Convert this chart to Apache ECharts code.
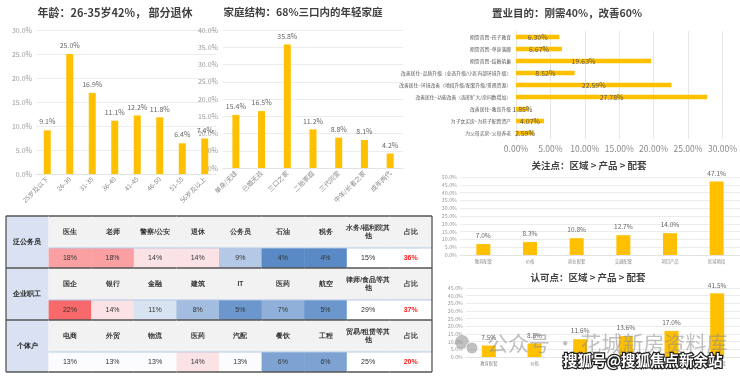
<!DOCTYPE html>
<html><head><meta charset="utf-8">
<script src="https://cdn.jsdelivr.net/npm/echarts@6/dist/echarts.min.js"></script>
<style>html,body{margin:0;padding:0;background:#fff}#c{width:740px;height:376px}</style>
</head><body><div id="c"></div>
<script>
// ---- data ----
const ageCats = ['25岁及以下','26-30','31-35','36-40','41-45','46-50','51-55','56岁及以上'];
const ageVals = [9.1,25.0,16.9,11.1,12.2,11.8,6.4,7.4];
const familyCats = ['单身/无娃','已婚无孩','三口之家','二胎家庭','三代同堂','中年/长者之家','成年两代'];
const familyVals = [15.4,16.5,35.8,11.2,8.8,8.1,4.2];
const purposeCats = ['刚需首置–孩子教育','刚需首置–单身落脚','刚需首置–结婚筑巢','改善居住–品质升级（业态升级/小区内部环境升级）','改善居住–环境改善（地段升级/配套升级/景观资源）','改善居住–功能改善（面积扩大/房间数增加）','改善居住–教育升级','为子女买房–为孩子配置资产','为父母买房–父母养老'];
const purposeVals = [6.30,6.67,19.63,8.52,22.59,27.78,1.85,4.07,2.59];
const pointCats = ['教育配套','价格','商业配套','交通配套','项目产品','区域地段'];
const focusVals = [7.0,8.3,10.8,12.7,14.0,47.1];
const approvalVals = [7.5,8.8,11.6,13.6,17.0,41.5];
const tableGroups = ['泛公务员','企业职工','个体户'];
const tableJobs = [
  ['医生','老师','警察/公安','退休','公务员','石油','税务','水务/福利院其他','占比'],
  ['国企','银行','金融','建筑','IT','医药','航空','律师/食品等其他','占比'],
  ['电商','外贸','物流','医药','汽配','餐饮','工程','贸易/租赁等其他','占比']
];
const tableShares = [
  [18,18,14,14,9,4,4,15,36],
  [22,14,11,8,5,7,5,29,37],
  [13,13,13,14,13,6,6,25,20]
];

// ---- helpers ----
const BAR = '#FFC000';
const heatVals = tableShares.flatMap(r => r.slice(0,7)).sort((a,b)=>a-b);
const hLo = heatVals[0], hHi = heatVals[heatVals.length-1], hMid = heatVals[Math.floor(heatVals.length/2)];
function heat(v){
  const white=[252,252,255], red=[248,105,107], blue=[90,138,198];
  let t, tg;
  if (v >= hMid){ t = Math.pow((v-hMid)/(hHi-hMid), 0.8); tg = red; }
  else { t = (hMid-v)/(hMid-hLo); tg = blue; }
  const c = white.map((w,i)=>Math.round(w + (tg[i]-w)*t));
  return 'rgb(' + c.join(',') + ')';
}

const grids = [
  {left:36, top:30, width:180, height:144},
  {left:223, top:30, width:180, height:138},
  {left:516, top:31, width:207, height:108},
  {left:460, top:177, width:280, height:78},
  {left:466, top:288, width:274, height:69},
  {left:6, top:216, width:426, height:156}
];
const gridLine = {show:true, lineStyle:{color:'#ececec', width:1}};
function catX(idx, cats, fs, rot, margin){
  return {type:'category', gridIndex:idx, data:cats, axisTick:{show:false},
    axisLine:{show:true, lineStyle:{color:'#e3e3e3'}},
    axisLabel:{fontSize:fs, color:'#8a8a8a', rotate:rot, margin:margin, interval:0}};
}
function valY(idx, max, fs, margin){
  return {type:'value', gridIndex:idx, min:0, max:max, interval:5,
    axisLine:{show:false}, axisTick:{show:false}, splitLine:gridLine,
    axisLabel:{fontSize:fs, color:'#9a9a9a', margin:margin, formatter:v=>v.toFixed(1)+'%'}};
}
function vbar(idx, vals, bw, fs){
  return {type:'bar', xAxisIndex:idx, yAxisIndex:idx, data:vals, barWidth:bw,
    itemStyle:{color:BAR}, silent:true,
    label:{show:true, position:'top', distance:5, fontSize:fs, color:'#666',
      formatter:p=>p.value.toFixed(1)+'%'}};
}
function ttl(text, x, y, fs){
  return {text:text, left:x, top:y, textAlign:'center', padding:0,
    textStyle:{fontSize:fs, fontWeight:'bold', color:'#404040'}};
}

function tableRender(params, api){
  const c = api.value(0), g = api.value(1);
  const ctr = api.coord([c, g]);
  const sz = api.size([1, 1]);
  const w = sz[0], h = sz[1];
  const x0 = ctr[0]-w/2, y0 = ctr[1]-h/2;
  const hh = h*0.615;
  const ch = [];
  const txt = (t, x, y, opt) => ({type:'text', style:Object.assign({text:t, x:x, y:y, align:'center', verticalAlign:'middle', fontSize:7, fontFamily:'sans-serif', fill:'#333'}, opt||{})});
  if (c === 0){
    ch.push({type:'rect', shape:{x:x0, y:y0, width:w, height:h}, style:{fill:'#d9e1f2'}});
    ch.push(txt(tableGroups[g], x0+w/2, y0+h/2, {fontWeight:'bold', fill:'#222'}));
  } else {
    const name = tableJobs[g][c-1], v = tableShares[g][c-1];
    ch.push({type:'rect', shape:{x:x0, y:y0, width:w+0.5, height:hh}, style:{fill:'#f2f2f2'}});
    ch.push(txt(name, x0+w/2, y0+hh/2, {fontWeight:'bold', fill:'#333', width:w+6, overflow:'break', fontSize:6.5, lineHeight:8}));
    let fill = '#ffffff', tc = '#333', fw = 'normal';
    if (c <= 7) fill = heat(v);
    if (c === 9){ tc = '#ff1a1a'; fw = 'bold'; }
    ch.push({type:'rect', shape:{x:x0, y:y0+hh, width:w+0.5, height:h-hh}, style:{fill:fill}});
    ch.push({type:'line', shape:{x1:x0, y1:y0+hh, x2:x0+w, y2:y0+hh}, style:{stroke:'#b4c7e7', lineWidth:1}});
    ch.push(txt(v+'%', x0+w/2, y0+hh+(h-hh)/2, {fill:tc, fontWeight:fw}));
  }
  const dark = {stroke:'#555', lineWidth:1.3};
  ch.push({type:'line', shape:{x1:x0, y1:y0, x2:x0+w, y2:y0}, style:dark});
  if (g === tableGroups.length-1) ch.push({type:'line', shape:{x1:x0, y1:y0+h, x2:x0+w, y2:y0+h}, style:dark});
  if (c === 0) ch.push({type:'line', shape:{x1:x0, y1:y0, x2:x0, y2:y0+h}, style:dark});
  if (c === 9) ch.push({type:'line', shape:{x1:x0+w, y1:y0, x2:x0+w, y2:y0+h}, style:dark});
  return {type:'group', children:ch};
}
const tableData = [];
tableGroups.forEach((gname, g) => { for (let c = 0; c <= tableJobs[g].length; c++) tableData.push([c, g]); });

const option = {
  backgroundColor:'#fff',
  animation:false,
  textStyle:{fontFamily:'"Noto Sans CJK SC", "Noto Sans", sans-serif'},
  title:[
    ttl('年龄：26-35岁42%， 部分退休', 115, 7, 11),
    ttl('家庭结构：68%三口内的年轻家庭', 303, 7, 10.5),
    ttl('置业目的：刚需40%，改善60%', 567, 8, 10.5),
    ttl('关注点：区域 > 产品 > 配套', 589, 161, 9.5),
    ttl('认可点：区域 > 产品 > 配套', 588, 273, 9.5)
  ],
  grid:grids,
  xAxis:[
    catX(0, ageCats, 6.5, 45, 4),
    catX(1, familyCats, 6.5, 45, 4),
    {type:'value', gridIndex:2, min:0, max:30, interval:5, axisLine:{show:false}, axisTick:{show:false},
      splitLine:{show:true, lineStyle:{color:'#e6e6e6'}},
      axisLabel:{fontSize:8.5, color:'#8a8a8a', margin:6, formatter:v=>v.toFixed(2)+'%'}},
    catX(3, pointCats, 4.3, 0, 4),
    catX(4, pointCats, 4.3, 0, 4),
    {type:'category', gridIndex:5, data:[0,1,2,3,4,5,6,7,8,9], show:false}
  ],
  yAxis:[
    valY(0, 30, 7, 4),
    valY(1, 40, 7, 5),
    {type:'category', gridIndex:2, data:purposeCats, inverse:true, axisTick:{show:false},
      axisLine:{show:true, lineStyle:{color:'#e6e6e6'}},
      axisLabel:{fontSize:4.8, color:'#555', margin:5, interval:0}},
    valY(3, 50, 5.3, 3),
    valY(4, 45, 5.3, 3),
    {type:'category', gridIndex:5, data:tableGroups, inverse:true, show:false}
  ],
  series:[
    vbar(0, ageVals, 7, 7),
    vbar(1, familyVals, 7, 7),
    {type:'bar', xAxisIndex:2, yAxisIndex:2, data:purposeVals, barWidth:4.5, itemStyle:{color:BAR}, silent:true,
      label:{show:true, position:'inside', fontSize:7, color:'#595959', formatter:p=>p.value.toFixed(2)+'%'}},
    vbar(3, focusVals, 14, 6.5),
    vbar(4, approvalVals, 14, 6.5),
    {type:'custom', xAxisIndex:5, yAxisIndex:5, data:tableData, renderItem:tableRender, silent:true, clip:false}
  ],
  graphic:[
    {type:'circle', shape:{cx:462, cy:342, r:7}, style:{fill:'rgba(140,140,140,0.55)'}, z:100},
    {type:'circle', shape:{cx:472, cy:348, r:6}, style:{fill:'rgba(140,140,140,0.55)', stroke:'#fff', lineWidth:1}, z:100},
    {type:'text', x:487, y:343, style:{text:'公众号 · 花城新房资料库', fontSize:21, fill:'rgba(140,140,140,0.55)', verticalAlign:'middle', fontFamily:'"Noto Sans CJK SC", sans-serif'}, z:100},
    {type:'text', x:563, y:360, style:{text:'搜狐号@搜狐焦点新余站', fontSize:14.5, fontWeight:'bold', fill:'#fff', stroke:'#222', lineWidth:2.5, verticalAlign:'middle', fontFamily:'"Noto Sans CJK SC", sans-serif'}, z:101}
  ]
};
const chart = echarts.init(document.getElementById('c'), null, {renderer:'canvas'});
chart.setOption(option);
</script></body></html>
